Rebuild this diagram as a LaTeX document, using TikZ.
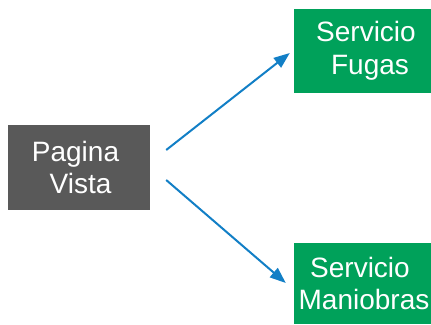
\documentclass[tikz,border=0pt]{standalone}
\usepackage{fontspec}
\setmainfont{Liberation Sans}
\usetikzlibrary{arrows.meta}
\definecolor{boxgray}{RGB}{89,89,89}
\definecolor{boxgreen}{RGB}{0,161,90}
\definecolor{arrowblue}{RGB}{18,127,198}
\tikzset{
  block/.style={rectangle, inner sep=0pt, text=white, align=center,
    font=\fontsize{28}{32.5}\selectfont},
  graybox/.style={block, fill=boxgray},
  greenbox/.style={block, fill=boxgreen},
  link/.style={draw=arrowblue, line width=2pt,
    -{Triangle[length=16pt,width=12pt]}}
}
\begin{document}
\begin{tikzpicture}[x=1pt,y=-1pt]
  \useasboundingbox (0,0) rectangle (431,324);
  % source page
  \node[graybox, minimum width=142pt, minimum height=85pt] (pag) at (79,167.5)
    {Pagina\hspace*{7pt}\\\hspace*{3pt}Vista};
  % services
  \node[greenbox, minimum width=137pt, minimum height=84pt] (fug) at (362.5,51)
    {\hspace*{7pt}Servicio\\\hspace*{15pt}Fugas};
  \node[greenbox, minimum width=137pt, minimum height=81pt] (man) at (362.5,283.5)
    {Servicio\hspace*{5pt}\\\hspace*{3pt}Maniobras};
  % calls
  \draw[link] ([shift={(16,-17.5)}]pag.east) -- ([shift={(-4,2)}]fug.west);
  \draw[link] ([shift={(16,12.5)}]pag.east) -- ([shift={(-8,-0.5)}]man.west);
\end{tikzpicture}
\end{document}
